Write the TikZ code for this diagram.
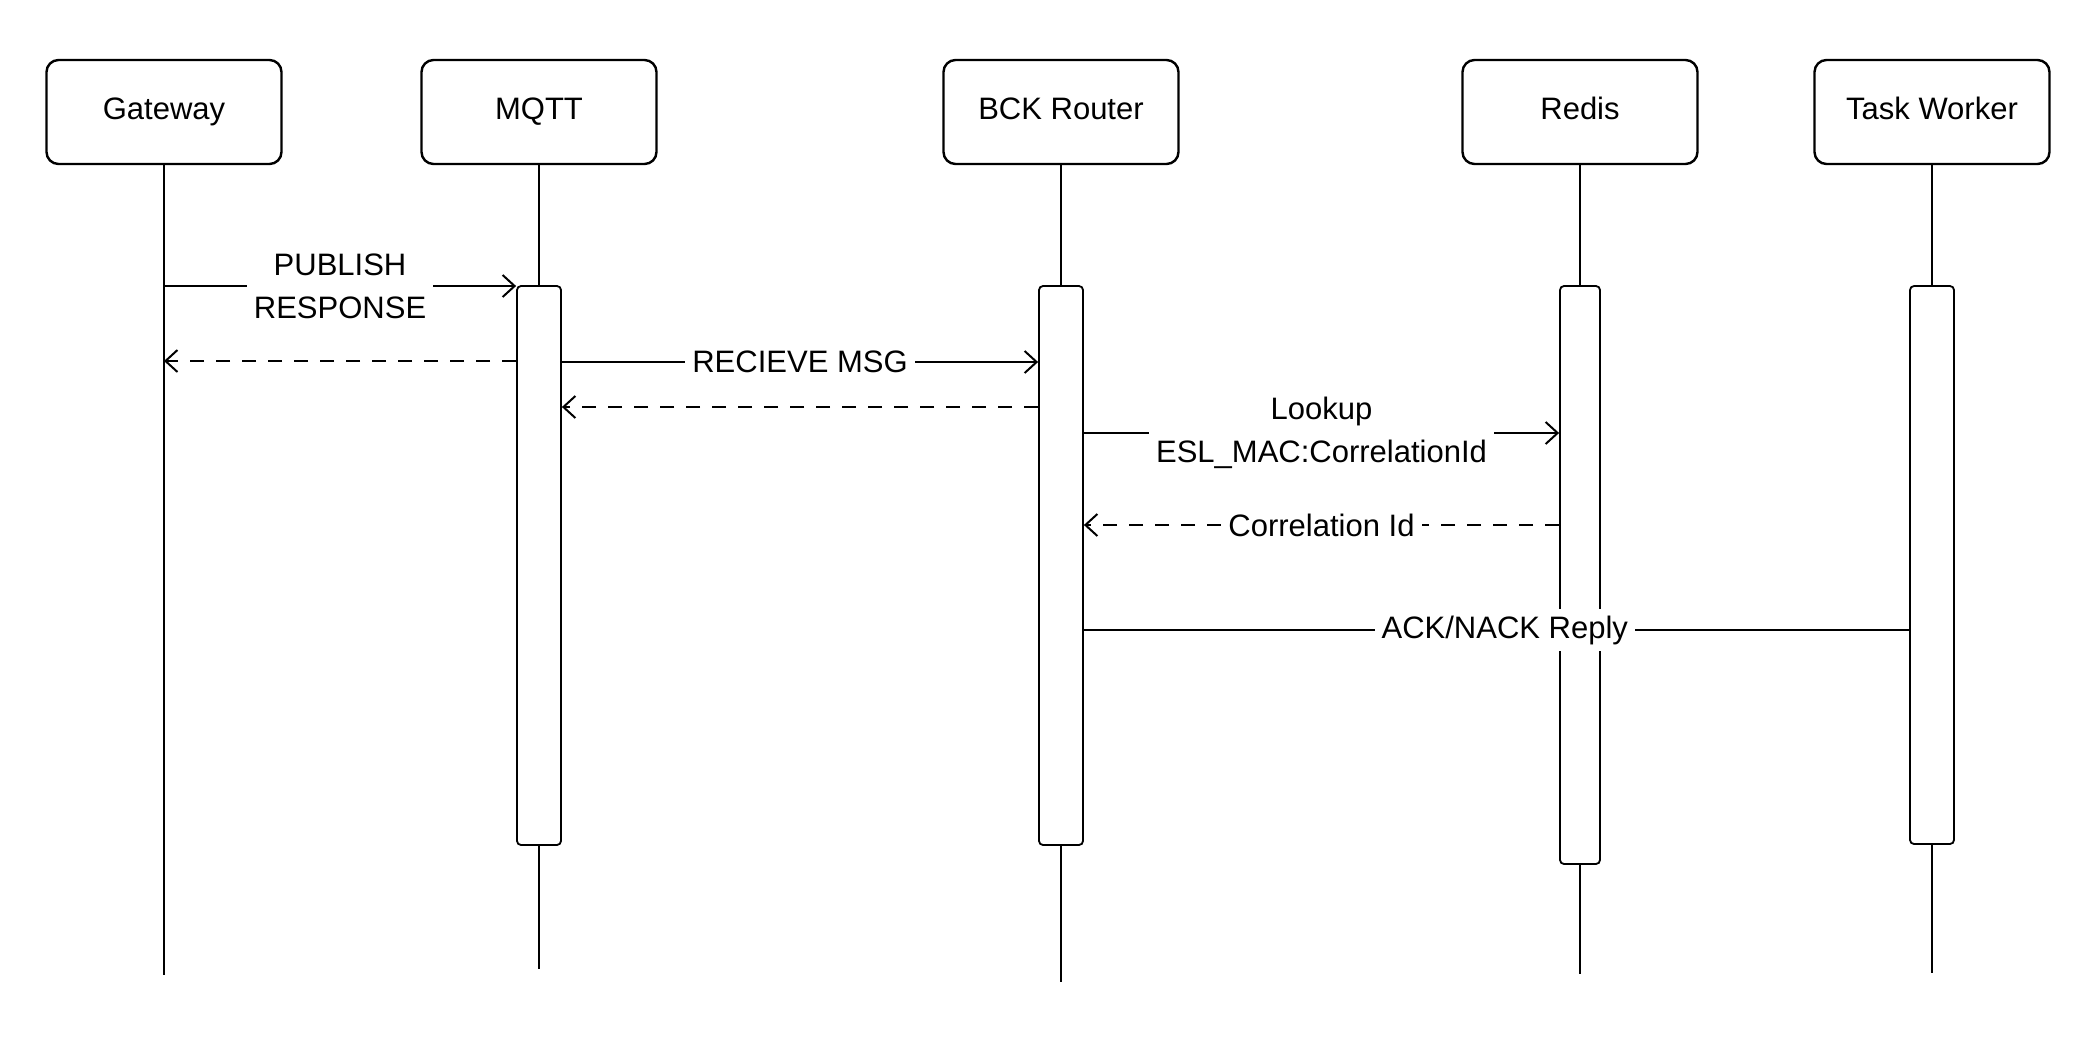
\documentclass[tikz,border=0pt]{standalone}
\usepackage{fontspec}
\setmainfont{Liberation Sans}
\usetikzlibrary{arrows.meta}

\tikzset{
  actor/.style={draw, line width=1.2pt, rounded corners=6pt, minimum width=117.5pt, minimum height=52pt, text height=11.5pt, text depth=4pt, font=\fontsize{15.5}{18}\selectfont},
  bar/.style={draw, fill=white, line width=0.9pt, rounded corners=2pt, minimum width=22pt, inner sep=0pt},
  life/.style={line width=0.7pt},
  msg/.style={line width=1pt, -{Straight Barb[length=6pt,width=11pt]}},
  ret/.style={msg, dash pattern=on 7pt off 6pt},
  lbl/.style={fill=white, inner sep=3.5pt, align=center, font=\fontsize{15.5}{21.5}\selectfont},
}

\begin{document}
\begin{tikzpicture}[x=0.5pt,y=-0.5pt]
\useasboundingbox (0,0) rectangle (2094,1040);

% actors
\foreach \n/\x/\t in {gw/164/Gateway, mqtt/539/MQTT, bck/1061/BCK Router, redis/1580/Redis, tw/1932/Task Worker} {
\node[actor] (\n) at (\x,112) {\t};
}

% lifelines
\foreach \n/\b in {gw/975, mqtt/969, bck/982, redis/974, tw/973} {
\draw[life] (\n.south) -- (\n.south |- 0,\b);
}

% activation bars
\node[bar, minimum height=279.5pt] (mqttbar) at (539,565.5) {};
\node[bar, minimum height=279.5pt] (bckbar) at (1061,565.5) {};
\node[bar, minimum height=289pt, minimum width=20pt] (redisbar) at (1580,575) {};
\node[bar, minimum height=279pt] (twbar) at (1932,565) {};

% messages
\draw[msg] (gw |- 0,286) -- node[lbl] {PUBLISH\\RESPONSE} (mqttbar.west |- 0,286);
\draw[ret] (mqttbar.west |- 0,361) -- (gw |- 0,361);
\draw[msg] (mqttbar.east |- 0,362) -- node[lbl] {RECIEVE MSG} (bckbar.west |- 0,362);
\draw[ret] (bckbar.west |- 0,407) -- (mqttbar.east |- 0,407);
\draw[msg] (bckbar.east |- 0,433) -- node[lbl] {Lookup\\ESL\_MAC:CorrelationId} (redisbar.west |- 0,433);
\draw[ret] (redisbar.west |- 0,525) -- node[lbl] {Correlation Id} (bckbar.east |- 0,525);
\draw[line width=1pt] (bckbar.east |- 0,630) -- node[lbl, pos=0.51] {ACK/NACK Reply} (twbar.west |- 0,630);
\end{tikzpicture}
\end{document}
